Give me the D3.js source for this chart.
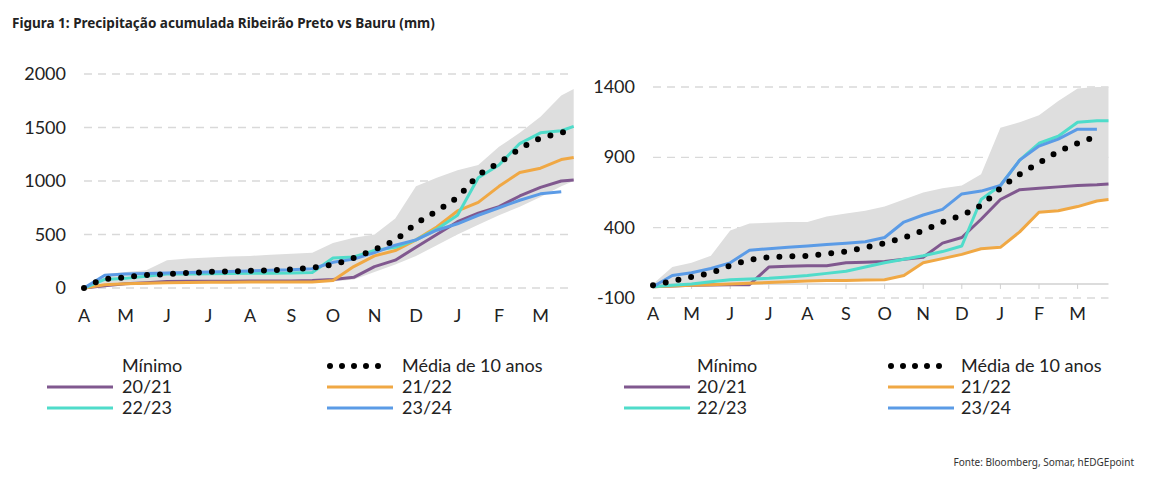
<!DOCTYPE html>
<html><head><meta charset="utf-8">
<script src="https://cdn.jsdelivr.net/npm/d3@7"></script>
<style>body{margin:0;background:#fff;font-family:Lato,"Open Sans",sans-serif}</style>
</head><body>
<svg id="chart" width="1149" height="478"></svg>
<script>
const months = ["A","M","J","J","A","S","O","N","D","J","F","M"];

// left: Ribeirão Preto  (x = months since April)
const rpX = [0,0.5,1,1.5,2,2.5,3,3.5,4,4.5,5,5.5,6,6.5,7,7.5,8,8.5,9,9.5,10,10.5,11,11.5,11.8];
const rpMax = [0,130,150,165,260,275,285,295,300,310,320,330,420,470,500,650,950,1030,1100,1150,1320,1450,1600,1800,1860];
const rpMin = [0,20,30,35,40,45,50,50,55,55,60,60,60,80,150,220,300,400,500,590,680,760,850,950,1000];
const rpMean = [0,80,100,120,130,140,150,155,160,165,175,190,220,280,360,450,600,720,850,1050,1170,1300,1400,1450,1490];
const rp2021 = [0,20,40,50,60,62,63,64,65,65,65,70,80,100,200,260,380,500,620,700,760,860,940,1000,1010];
const rp2122 = [0,30,40,45,50,52,53,54,55,55,55,55,70,200,300,350,450,570,720,800,950,1080,1120,1200,1220];
const rp2223 = [0,80,90,110,130,132,134,136,138,139,140,145,280,290,350,380,450,550,680,1030,1150,1350,1450,1470,1510];
const rp2324 = [0,120,130,135,140,145,150,155,160,165,170,180,240,270,330,400,450,540,600,680,750,820,880,900,null];

// right: Bauru
const baX = [0,0.5,1,1.5,2,2.5,3,3.5,4,4.5,5,5.5,6,6.5,7,7.5,8,8.5,9,9.5,10,10.5,11,11.5,11.8];
const baMax = [0,120,150,200,380,430,435,440,440,480,500,520,550,600,650,680,700,780,1110,1150,1200,1300,1390,1400,1400];
const baMin = [-20,-20,-15,-10,-5,0,5,10,15,20,25,28,30,60,150,180,210,250,260,370,510,520,550,590,600];
const baMean = [-10,20,50,80,130,170,190,195,200,215,230,260,290,330,380,440,490,560,680,780,860,940,1000,1050,null];
const ba2021 = [-20,-15,-10,-8,-5,-5,120,125,130,130,150,155,160,175,190,290,330,460,600,670,680,690,700,705,710];
const ba2122 = [-20,-15,-10,-5,0,5,10,15,20,25,25,28,30,60,150,180,210,250,260,370,510,520,550,590,600];
const ba2223 = [-20,-10,0,15,30,35,40,50,60,75,90,120,150,175,200,230,270,600,700,880,1000,1050,1150,1160,1160];
const ba2324 = [-20,60,80,110,150,240,250,260,270,280,290,300,330,440,490,530,640,660,700,880,980,1030,1100,1100,null];

const rpTicks = [0,500,1000,1500,2000];
const baTicks = [-100,400,900,1400];

const colors = {c2021:"#80588f", c2122:"#f0a844", c2223:"#4fdcca", c2324:"#5b9be6"};
const svg = d3.select("#chart");

svg.append("text").attr("x",12).attr("y",28).attr("font-family","'Noto Sans',sans-serif")
  .attr("font-weight","bold").attr("font-size",13.5).attr("fill","#222")
  .text("Figura 1: Precipitação acumulada Ribeirão Preto vs Bauru (mm)");
svg.append("text").attr("x",1134).attr("y",466).attr("text-anchor","end")
  .attr("font-family","'Noto Sans',sans-serif").attr("font-size",10).attr("fill","#333")
  .text("Fonte: Bloomberg, Somar, hEDGEpoint");

function panel(o) {
  const x = d3.scaleLinear().domain([0,11]).range([o.x0, o.x0 + 11*o.step]);
  const y = d3.scaleLinear().domain(o.ydom).range(o.yr);
  const g = svg.append("g");
  o.ticks.forEach(t => {
    g.append("line").attr("x1",o.x0).attr("x2",x(11.8)).attr("y1",y(t)).attr("y2",y(t))
      .attr("stroke","#d9d9d9").attr("stroke-width",1.3).attr("stroke-dasharray","8,6");
  });
  const band = o.xs.map((d,i)=>({x:d,lo:o.min[i],hi:o.max[i]}));
  g.append("path").datum(band).attr("fill","#dedede")
    .attr("d", d3.area().x(d=>x(d.x)).y0(d=>y(d.lo)).y1(d=>y(d.hi)));
  if (o.zeroAxis) {
    g.append("line").attr("x1",o.x0).attr("x2",x(11.8)).attr("y1",y(0)).attr("y2",y(0))
      .attr("stroke","#d0d0d0").attr("stroke-width",1.5);
    d3.range(12).forEach(i => g.append("line").attr("x1",x(i)).attr("x2",x(i))
      .attr("y1",y(0)).attr("y2",y(0)+5).attr("stroke","#d0d0d0"));
  }
  const line = d3.line().defined(d=>d.v!=null).x(d=>x(d.x)).y(d=>y(d.v));
  [[o.s2021,colors.c2021],[o.s2122,colors.c2122],[o.s2223,colors.c2223],[o.s2324,colors.c2324]].forEach(([s,c]) => {
    g.append("path").datum(o.xs.map((d,i)=>({x:d,v:s[i]}))).attr("fill","none")
      .attr("stroke",c).attr("stroke-width",3).attr("stroke-linejoin","round").attr("d",line);
  });
  g.append("path").datum(o.xs.map((d,i)=>({x:d,v:o.mean[i]}))).attr("fill","none")
    .attr("stroke","#000").attr("stroke-width",6).attr("stroke-linecap","round")
    .attr("stroke-dasharray","0,13").attr("d",line.curve(d3.curveMonotoneX));
  g.selectAll(".yl").data(o.ticks).join("text").attr("x",o.x0-18).attr("y",d=>y(d)+6)
    .attr("text-anchor","end").attr("font-size",18).attr("fill","#222").text(d=>d);
  g.selectAll(".xl").data(months).join("text").attr("x",(d,i)=>x(i)).attr("y",o.xly)
    .attr("text-anchor","middle").attr("font-size",18).attr("fill","#222").text(d=>d);
  // legend
  const L = o.leg;
  const items = [
    [L[0], 372, null, "Mínimo"], [L[2], 372, "mean", "Média de 10 anos"],
    [L[0], 393, colors.c2021, "20/21"], [L[2], 393, colors.c2122, "21/22"],
    [L[0], 414, colors.c2223, "22/23"], [L[2], 414, colors.c2324, "23/24"]
  ];
  items.forEach(([lx,ly,c,t]) => {
    if (c === "mean") {
      g.append("line").attr("x1",lx+3).attr("x2",lx+63).attr("y1",ly-6).attr("y2",ly-6)
        .attr("stroke","#000").attr("stroke-width",6).attr("stroke-linecap","round").attr("stroke-dasharray","0,12");
    } else if (c) {
      g.append("line").attr("x1",lx).attr("x2",lx+66).attr("y1",ly-6).attr("y2",ly-6)
        .attr("stroke",c).attr("stroke-width",3);
    }
    g.append("text").attr("x",lx+L[1]).attr("y",ly).attr("font-size",18).attr("fill","#222").text(t);
  });
}

panel({x0:84, step:41.5, ydom:[0,2000], yr:[288,74], ticks:rpTicks, xly:322, zeroAxis:false,
  xs:rpX, max:rpMax, min:rpMin, mean:rpMean, s2021:rp2021, s2122:rp2122, s2223:rp2223, s2324:rp2324,
  leg:[47,75,327,71]});
panel({x0:653, step:38.6, ydom:[-100,1400], yr:[298,87], ticks:baTicks, xly:320, zeroAxis:true,
  xs:baX, max:baMax, min:baMin, mean:baMean, s2021:ba2021, s2122:ba2122, s2223:ba2223, s2324:ba2324,
  leg:[624,73,888,77]});
</script>
</body></html>
